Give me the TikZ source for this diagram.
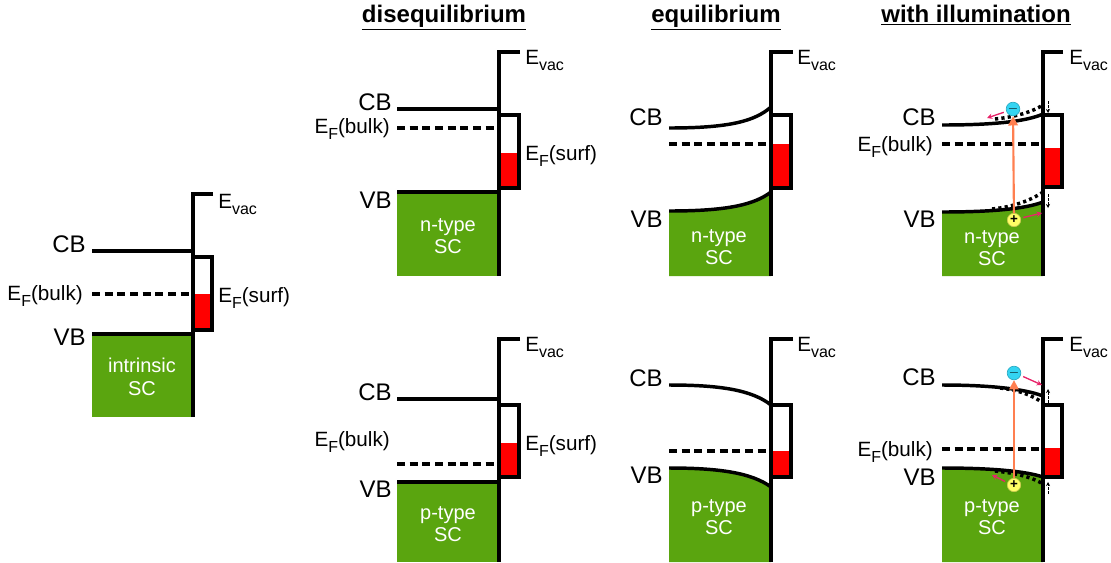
\documentclass[tikz,border=0pt]{standalone}
\usepackage{fontspec}
\setmainfont{Liberation Sans}
\usetikzlibrary{arrows.meta, positioning}
\definecolor{scgreen}{HTML}{5AA50F}
\definecolor{surfred}{HTML}{FF0000}
\definecolor{elecblue}{HTML}{33D4F2}
\definecolor{holeyellow}{HTML}{FFFF66}
\definecolor{photoorange}{HTML}{FF7F50}
\definecolor{driftpink}{HTML}{E8246A}
\newcommand{\lowidx}[1]{\raisebox{-0.3em}{\fontsize{12}{12}\selectfont #1}}

\begin{document}
\begin{tikzpicture}[x=0.75pt, y=-0.75pt,
  band/.style={line width=2.6pt},
  fermi/.style={line width=2.6pt, dash pattern=on 6pt off 3.5pt},
  prevband/.style={line width=2.6pt, dash pattern=on 2.4pt off 2.4pt},
  lbl/.style={font=\fontsize{18}{18}\selectfont, inner sep=0pt},
  elbl/.style={font=\fontsize{15.5}{15.5}\selectfont, inner sep=0pt},
  sclbl/.style={font=\fontsize{15}{17}\selectfont, text=white, align=center, inner sep=0pt},
  title/.style={font=\fontsize{18}{18}\selectfont\bfseries, inner sep=0pt},
  shiftarrow/.style={-{Stealth[length=3pt,width=3pt]}, line width=0.7pt, dash pattern=on 2pt off 1pt},
  carrier/.style={circle, inner sep=0pt, minimum size=10pt, line width=0.5pt, font=\fontsize{10}{10}\selectfont\bfseries},
  excite/.style={-{Triangle[length=7pt,width=7pt]}, photoorange, line width=1.6pt},
  drift/.style={-{Stealth[length=4pt,width=4pt]}, driftpink, line width=1pt, shorten <=2pt}]

\useasboundingbox (0,0) rectangle (1111,562);

% titles
\node[title, anchor=base] (titleDis) at (444,22) {\underline{disequilibrium}};
\node[title, anchor=base] (titleEq) at (716,22) {\underline{equilibrium}};
\node[title, anchor=base] (titleIll) at (976,22) {\underline{with illumination}};

% intrinsic
\fill[scgreen] (92,334) rectangle (193,417);
\fill[surfred] (193,294) rectangle (212,330);
\draw[band] (193,257) -| (212,330) -- (193,330);
\draw[band] (92,251) -- (193,251);
\draw[fermi] (92,294) -- (193,294);
\draw[band] (92,334) -- (193,334);
\draw[band] (213,194) -- (193,194) -- (193,417);
\node[lbl, anchor=base east] (cbI) at (86,252) {CB};
\node[elbl, anchor=base east] (efI) at (83,300) {E\lowidx{F}(bulk)};
\node[lbl, anchor=base east] (vbI) at (86,345) {VB};
\node[elbl, anchor=base west] (vacI) at (218,208) {E\lowidx{vac}};
\node[elbl, anchor=base west] (efsI) at (218,302) {E\lowidx{F}(surf)};
\node[sclbl] (scI) at (142,377) {intrinsic\\SC};

% disequilibrium, n-type
\fill[scgreen] (397,192) rectangle (499,276);
\fill[surfred] (499,153) rectangle (519,188);
\draw[band] (499,115) -| (519,188) -- (499,188);
\draw[band] (397,109) -- (499,109);
\draw[fermi] (397,128) -- (499,128);
\draw[band] (397,192) -- (499,192);
\draw[band] (520,52) -- (499,52) -- (499,276);
\node[lbl, anchor=base east] (cbDn) at (392,110) {CB};
\node[elbl, anchor=base east] (efDn) at (390,133) {E\lowidx{F}(bulk)};
\node[lbl, anchor=base east] (vbDn) at (392,208) {VB};
\node[elbl, anchor=base west] (vacDn) at (525,64) {E\lowidx{vac}};
\node[elbl, anchor=base west] (efsDn) at (525,160) {E\lowidx{F}(surf)};
\node[sclbl] (scDn) at (448,236) {n-type\\SC};

% disequilibrium, p-type
\fill[scgreen] (397,482) rectangle (499,562);
\fill[surfred] (499,443) rectangle (519,477);
\draw[band] (499,405) -| (519,477) -- (499,477);
\draw[band] (397,399) -- (499,399);
\draw[fermi] (397,464) -- (499,464);
\draw[band] (397,482) -- (499,482);
\draw[band] (520,339) -- (499,339) -- (499,562);
\node[lbl, anchor=base east] (cbDp) at (392,400) {CB};
\node[elbl, anchor=base east] (efDp) at (390,446) {E\lowidx{F}(bulk)};
\node[lbl, anchor=base east] (vbDp) at (392,497) {VB};
\node[elbl, anchor=base west] (vacDp) at (525,351) {E\lowidx{vac}};
\node[elbl, anchor=base west] (efsDp) at (525,450) {E\lowidx{F}(surf)};
\node[sclbl] (scDp) at (448,524) {p-type\\SC};

% equilibrium, n-type
\fill[scgreen] (669,211) .. controls (730,211) and (755,204) .. (771,192) -- (771,276) -- (669,276) -- cycle;
\fill[surfred] (771,144) rectangle (791,188);
\draw[band] (771,115) -| (791,188) -- (771,188);
\draw[band] (669,128) .. controls (730,128) and (755,121) .. (771,107);
\draw[fermi] (669,144) -- (771,144);
\draw[band] (669,211) .. controls (730,211) and (755,204) .. (771,192);
\draw[band] (793,52) -- (771,52) -- (771,276);
\node[lbl, anchor=base east] (cbEn) at (663,125) {CB};
\node[lbl, anchor=base east] (vbEn) at (663,227) {VB};
\node[elbl, anchor=base west] (vacEn) at (797,64) {E\lowidx{vac}};
\node[sclbl] (scEn) at (719,247) {n-type\\SC};

% equilibrium, p-type
\fill[scgreen] (669,468) .. controls (720,468) and (752,473) .. (771,487) -- (771,562) -- (669,562) -- cycle;
\fill[surfred] (771,451) rectangle (791,477);
\draw[band] (771,405) -| (791,477) -- (771,477);
\draw[band] (669,385) .. controls (720,385) and (752,390) .. (771,405);
\draw[fermi] (669,451) -- (771,451);
\draw[band] (669,468) .. controls (720,468) and (752,473) .. (771,487);
\draw[band] (793,339) -- (771,339) -- (771,562);
\node[lbl, anchor=base east] (cbEp) at (663,386) {CB};
\node[lbl, anchor=base east] (vbEp) at (663,483) {VB};
\node[elbl, anchor=base west] (vacEp) at (797,351) {E\lowidx{vac}};
\node[sclbl] (scEp) at (719,517) {p-type\\SC};

% illumination, n-type
\fill[scgreen] (942,212) .. controls (990,212) and (1025,209) .. (1043,202) -- (1043,276) -- (942,276) -- cycle;
\fill[surfred] (1043,148) rectangle (1062,187);
\draw[band] (1043,115) -| (1062,187) -- (1043,187);
\draw[prevband] (995,119) .. controls (1015,117) and (1032,112) .. (1043,105);
\draw[prevband] (992,209) .. controls (1012,207) and (1030,201) .. (1043,192);
\draw[band] (942,125) .. controls (990,125) and (1025,122) .. (1043,114);
\draw[fermi] (942,144) -- (1043,144);
\draw[band] (942,212) .. controls (990,212) and (1025,209) .. (1043,202);
\draw[band] (1063,52) -- (1043,52) -- (1043,276);
\draw[shiftarrow] (1048,101) -- (1048,113);
\draw[shiftarrow] (1048,194) -- (1048,208);
\node[lbl, anchor=base east] (cbIn) at (936,125) {CB};
\node[elbl, anchor=base east] (efIn) at (933,151) {E\lowidx{F}(bulk)};
\node[lbl, anchor=base east] (vbIn) at (936,227) {VB};
\node[elbl, anchor=base west] (vacIn) at (1069,64) {E\lowidx{vac}};
\node[sclbl] (scIn) at (992,248) {n-type\\SC};
\node[carrier, fill=elecblue, draw=elecblue!80!black] (elecN) at (1013,109) {$-$};
\node[carrier, fill=holeyellow, draw=holeyellow!80!black] (holeN) at (1014,220) {+};
\coordinate (driftEN) at (987,118);
\coordinate (driftHN) at (1042,213);
\draw[excite] (holeN) -- (elecN);
\draw[drift] (elecN.200) -- (driftEN);
\draw[drift] (holeN.15) -- (driftHN);

% illumination, p-type
\fill[scgreen] (942,468) .. controls (990,468) and (1025,471) .. (1043,477) -- (1043,562) -- (942,562) -- cycle;
\fill[surfred] (1043,448) rectangle (1062,477);
\draw[band] (1043,405) -| (1062,477) -- (1043,477);
\draw[prevband] (1000,388) .. controls (1018,390) and (1032,395) .. (1043,403);
\draw[prevband] (995,471) .. controls (1015,473) and (1032,477) .. (1043,484);
\draw[band] (942,385) .. controls (990,385) and (1025,389) .. (1043,396);
\draw[fermi] (942,449) -- (1043,449);
\draw[band] (942,468) .. controls (990,468) and (1025,471) .. (1043,477);
\draw[band] (1063,339) -- (1043,339) -- (1043,562);
\draw[shiftarrow] (1048,403) -- (1048,389);
\draw[shiftarrow] (1048,494) -- (1048,482);
\node[lbl, anchor=base east] (cbIp) at (936,385) {CB};
\node[elbl, anchor=base east] (efIp) at (933,456) {E\lowidx{F}(bulk)};
\node[lbl, anchor=base east] (vbIp) at (936,485) {VB};
\node[elbl, anchor=base west] (vacIp) at (1069,351) {E\lowidx{vac}};
\node[sclbl] (scIp) at (992,517) {p-type\\SC};
\node[carrier, fill=elecblue, draw=elecblue!80!black] (elecP) at (1014,373) {$-$};
\node[carrier, fill=holeyellow, draw=holeyellow!80!black] (holeP) at (1014,485) {+};
\coordinate (driftEP) at (1042,385);
\coordinate (driftHP) at (992,475);
\draw[excite] (holeP) -- (elecP);
\draw[drift] (elecP.-20) -- (driftEP);
\draw[drift] (holeP.160) -- (driftHP);
\end{tikzpicture}
\end{document}
